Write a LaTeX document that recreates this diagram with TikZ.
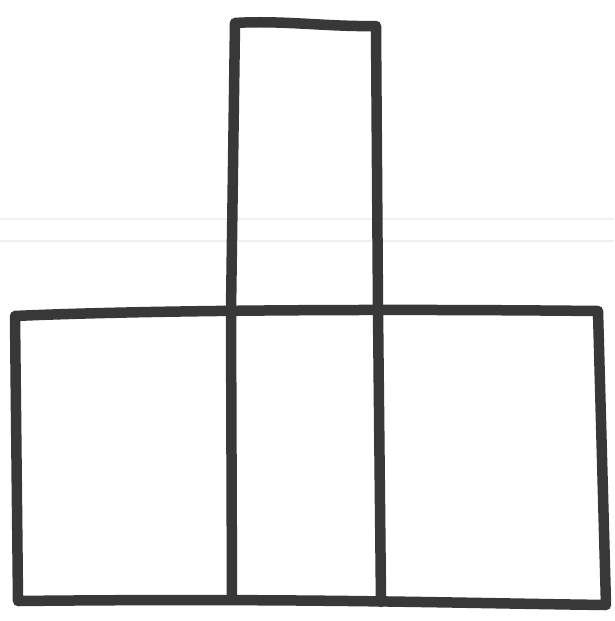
\documentclass[tikz,border=0pt]{standalone}
\begin{document}
\begin{tikzpicture}[x=1pt,y=-1pt,
  pen/.style={draw=black!78,line width=10.5pt,line cap=round,line join=round}]
\useasboundingbox (0,0) rectangle (614,621);
\fill[white] (0,0) rectangle (614,621);
% faint scan lines
\draw[black!6,line width=1.5pt] (0,219) -- (614,219);
\draw[black!6,line width=1.5pt] (0,241) -- (614,241);
% corners
\coordinate (tl) at (235,23);
\coordinate (tr) at (376,26);
\coordinate (ml) at (231,311);
\coordinate (mr) at (378,310);
\coordinate (bl1) at (15,316);
\coordinate (br1) at (598,311);
\coordinate (bl2) at (18,601);
\coordinate (bm1) at (232,599);
\coordinate (bm2) at (381,602);
\coordinate (br2) at (606,605);
% top tower
\draw[pen] (ml) -- (tl) .. controls (280,20) and (330,27) .. (tr) -- (mr);
% big rectangle
\draw[pen] (bl1) .. controls (100,312) and (300,308) .. (br1) -- (br2)
  .. controls (450,603) and (300,598) .. (bl2) -- cycle;
% dividers
\draw[pen] (ml) -- (bm1);
\draw[pen] (mr) -- (bm2);
\end{tikzpicture}
\end{document}
